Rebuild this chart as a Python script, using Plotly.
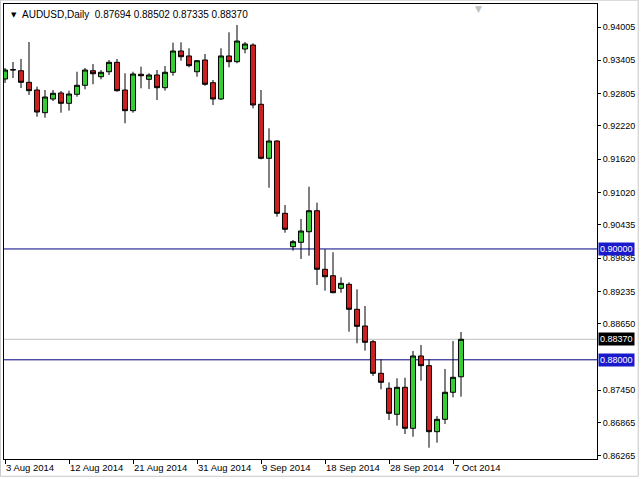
import pandas as pd
import plotly.graph_objects as go

# ---- data ----
symbol_title = "AUDUSD,Daily"
dates = [d.strftime("%Y-%m-%d") for d in pd.date_range("2014-08-03", "2014-10-08") if d.weekday() != 5]

opens = [0.93067, 0.93229, 0.93216, 0.93007, 0.92868, 0.92459, 0.92706, 0.92814, 0.92628, 0.92791,
         0.92953, 0.93216, 0.93108, 0.93198, 0.93368, 0.92868, 0.92495, 0.93152, 0.93061, 0.93139,
         0.92910, 0.93188, 0.93572, 0.93482, 0.93198, 0.93410, 0.93000, 0.92706, 0.93482, 0.93379,
         0.93608, 0.93680, 0.92610, 0.91636, 0.91948, 0.90643, 0.90041, 0.90120, 0.90311, 0.90690,
         0.89633, 0.89517, 0.89290, 0.89362, 0.88911, 0.88610, 0.88327, 0.87756, 0.87486, 0.87017,
         0.87504, 0.86764, 0.88069, 0.87894, 0.86703, 0.86926, 0.87414, 0.87694]
highs = [0.93265, 0.93374, 0.93428, 0.93734, 0.92928, 0.92868, 0.92868, 0.92850, 0.92856, 0.93198,
         0.93265, 0.93337, 0.93229, 0.93410, 0.93428, 0.93170, 0.93198, 0.93289, 0.93170, 0.93229,
         0.93301, 0.93722, 0.93729, 0.93621, 0.93410, 0.93518, 0.93049, 0.93621, 0.93909, 0.94041,
         0.93734, 0.93711, 0.92868, 0.92177, 0.91960, 0.90793, 0.90162, 0.90541, 0.91123, 0.90835,
         0.89994, 0.89940, 0.89489, 0.89398, 0.89272, 0.88971, 0.88357, 0.88009, 0.87594, 0.87666,
         0.87677, 0.88159, 0.88267, 0.88009, 0.86986, 0.87834, 0.88339, 0.88502]
lows = [0.92995, 0.93085, 0.92904, 0.92778, 0.92386, 0.92368, 0.92670, 0.92459, 0.92495, 0.92747,
        0.92881, 0.92971, 0.93061, 0.93139, 0.92838, 0.92267, 0.92459, 0.92899, 0.92886, 0.92688,
        0.92856, 0.93126, 0.93397, 0.93278, 0.93108, 0.92946, 0.92598, 0.92688, 0.93278, 0.93350,
        0.93530, 0.92538, 0.91618, 0.91105, 0.90582, 0.90293, 0.89969, 0.89819, 0.89878, 0.89350,
        0.89247, 0.89200, 0.89211, 0.88507, 0.88298, 0.88164, 0.87708, 0.87468, 0.86914, 0.86811,
        0.86661, 0.86612, 0.87623, 0.86414, 0.86504, 0.86842, 0.87323, 0.87335]
closes = [0.93229, 0.93235, 0.93007, 0.92856, 0.92471, 0.92742, 0.92809, 0.92628, 0.92796, 0.92953,
          0.93229, 0.93162, 0.93188, 0.93368, 0.92856, 0.92495, 0.93157, 0.93126, 0.93139, 0.92910,
          0.93188, 0.93572, 0.93469, 0.93307, 0.93397, 0.92971, 0.92706, 0.93482, 0.93379, 0.93752,
          0.93698, 0.92598, 0.91636, 0.91948, 0.90643, 0.90355, 0.90131, 0.90324, 0.90690, 0.89633,
          0.89499, 0.89211, 0.89380, 0.88911, 0.88604, 0.88316, 0.87756, 0.87594, 0.87035, 0.87504,
          0.86764, 0.88069, 0.87894, 0.86703, 0.86926, 0.87414, 0.87684, 0.88370]

x_tick_dates = ["2014-08-03", "2014-08-12", "2014-08-21", "2014-08-31", "2014-09-09",
                "2014-09-18", "2014-09-28", "2014-10-07"]
x_tick_text = ["3 Aug 2014", "12 Aug 2014", "21 Aug 2014", "31 Aug 2014", "9 Sep 2014",
               "18 Sep 2014", "28 Sep 2014", "7 Oct 2014"]
y_tick_vals = [0.94005, 0.93405, 0.92805, 0.92220, 0.91620, 0.91020, 0.90435, 0.89835,
               0.89235, 0.88650, 0.87450, 0.86865, 0.86265]
y_tick_text = ["%.5f" % v for v in y_tick_vals]
level_lines = [0.90000, 0.88000]
bid_price = 0.88370

FONT = "Liberation Sans, Arial, sans-serif"
FS = 9

fig = go.Figure()
fig.add_trace(go.Candlestick(
    x=dates, open=opens, high=highs, low=lows, close=closes,
    increasing=dict(fillcolor="#35CC35", line=dict(color="black", width=1)),
    decreasing=dict(fillcolor="#CC2020", line=dict(color="black", width=1)),
    whiskerwidth=0, showlegend=False, hoverinfo="skip",
))

shapes = []
for lv in level_lines:
    shapes.append(dict(type="line", xref="paper", x0=0, x1=1, yref="y", y0=lv, y1=lv,
                       line=dict(color="#000080", width=1), layer="below"))
shapes.append(dict(type="line", xref="paper", x0=0, x1=1, yref="y", y0=bid_price, y1=bid_price,
                   line=dict(color="#C0C0C0", width=1), layer="below"))
# window frame
shapes.append(dict(type="rect", xref="paper", yref="paper", x0=-0.006, x1=1.0695, y0=-0.038, y1=1.0085,
                   line=dict(color="#C8C8C8", width=1)))

annotations = []
for lv in level_lines:
    annotations.append(dict(xref="paper", x=1, xanchor="left", xshift=1, yref="y", y=lv,
                            text="%.5f" % lv, showarrow=False, bgcolor="#1A1ACC",
                            font=dict(family=FONT, size=FS, color="white"), borderpad=1))
annotations.append(dict(xref="paper", x=1, xanchor="left", xshift=1, yref="y", y=bid_price,
                        text="%.5f" % bid_price, showarrow=False, bgcolor="black",
                        font=dict(family=FONT, size=FS, color="white"), borderpad=1))
annotations.append(dict(xref="paper", x=0, xanchor="left", xshift=5, yref="paper", y=1, yanchor="top",
                        yshift=-5, text="▼", showarrow=False,
                        font=dict(family="DejaVu Sans", size=7, color="black")))
annotations.append(dict(xref="paper", x=0, xanchor="left", xshift=16, yref="paper", y=1, yanchor="top",
                        yshift=-3,
                        text="%s  %.5f %.5f %.5f %.5f" % (symbol_title, opens[-1], highs[-1], lows[-1], closes[-1]),
                        showarrow=False, font=dict(family=FONT, size=10, color="black")))
annotations.append(dict(xref="paper", x=0.8, xanchor="center", yref="paper", y=1, yanchor="top",
                        yshift=2, text="▼", showarrow=False,
                        font=dict(family="DejaVu Sans", size=9, color="#C0C0C0")))

fig.update_layout(
    width=641, height=479,
    margin=dict(l=4, r=44, t=4, b=20, autoexpand=False),
    paper_bgcolor="white", plot_bgcolor="white",
    font=dict(family=FONT, size=FS, color="black"),
    boxgap=0.1,
    shapes=shapes, annotations=annotations,
    xaxis=dict(type="category", range=[-0.125, 74], rangeslider=dict(visible=False),
               tickmode="array", tickvals=x_tick_dates, ticktext=x_tick_text, tickangle=0,
               ticks="outside", ticklen=4, tickcolor="black", ticklabelposition="outside right",
               showgrid=False, zeroline=False, showline=True, mirror=True, automargin=False,
               linecolor="black", linewidth=1, tickfont=dict(family=FONT, size=9.5)),
    yaxis=dict(side="right", range=[0.86210, 0.94420], tickmode="array",
               tickvals=y_tick_vals, ticktext=y_tick_text, automargin=False,
               ticks="outside", ticklen=3, tickcolor="black",
               showgrid=False, zeroline=False, showline=True, mirror=True,
               linecolor="black", linewidth=1, tickfont=dict(family=FONT, size=FS)),
)

fig.write_html("out.html", config={"displayModeBar": False},
               post_script="document.body.style.margin='0';document.body.style.padding='0';document.body.style.overflow='hidden';")
